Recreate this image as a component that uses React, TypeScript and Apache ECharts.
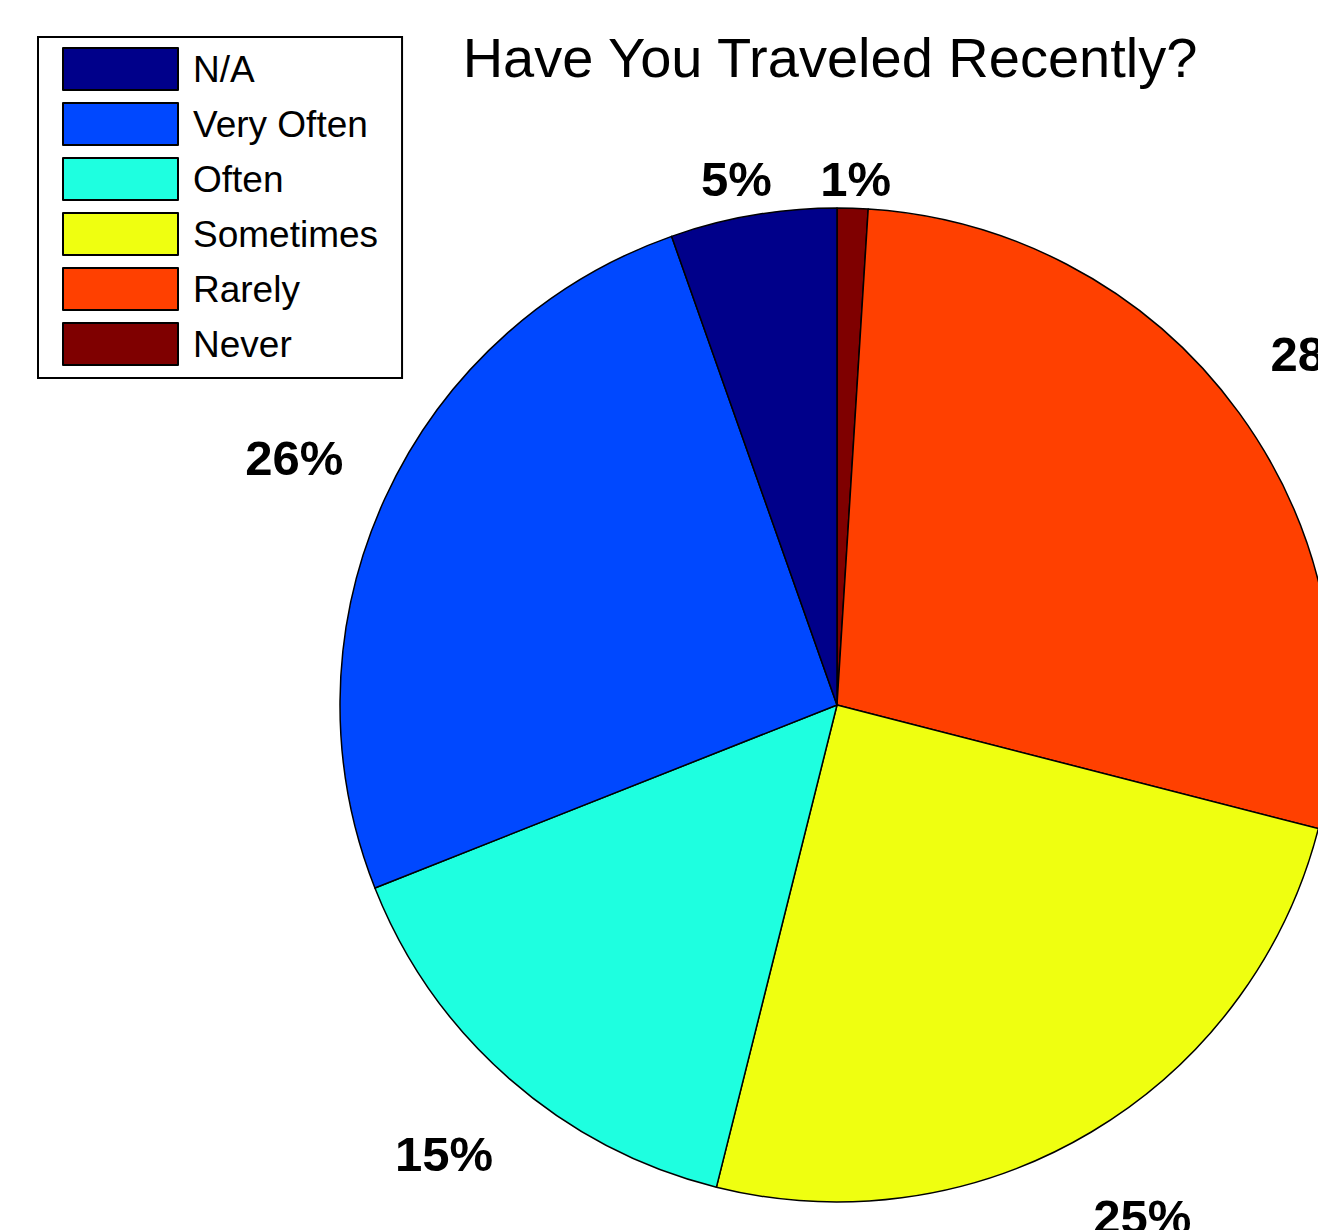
import React, { useEffect, useRef } from "react";
import * as echarts from "echarts";

// Slices in drawing order (clockwise from 12 o'clock)
const categories = ["Never", "Rarely", "Sometimes", "Often", "Very Often", "N/A"];
const values = [1.0, 28.0, 24.9, 15.1, 25.6, 5.4];
const colors = ["#7F0000", "#FF4000", "#EFFF10", "#1EFFE0", "#0048FF", "#00008A"];
const legendOrder = ["N/A", "Very Often", "Often", "Sometimes", "Rarely", "Never"];
const titleText = "Have You Traveled Recently?";

const FONT = "'Liberation Sans', Arial, Helvetica, sans-serif";
const RADIUS = 497;

export default function App() {
  const ref = useRef<HTMLDivElement>(null);

  useEffect(() => {
    if (!ref.current) return;
    const chart = echarts.init(ref.current, undefined, { renderer: "svg" });
    const option: any = {
      animation: false,
      backgroundColor: "#ffffff",
      title: {
        text: titleText,
        left: 830,
        top: 29,
        textAlign: "center",
        padding: 0,
        textStyle: {
          fontFamily: FONT,
          fontSize: 56,
          fontWeight: "normal",
          color: "#000000",
        },
      },
      legend: {
        orient: "vertical",
        left: 38,
        top: 37,
        data: legendOrder,
        icon: "rect",
        itemWidth: 115,
        itemHeight: 42,
        itemGap: 11,
        padding: [10, 24, 12, 24],
        borderColor: "#000000",
        borderWidth: 2,
        backgroundColor: "#ffffff",
        selectedMode: false,
        itemStyle: { borderColor: "#000000", borderWidth: 2 },
        textStyle: {
          fontFamily: FONT,
          fontSize: 37,
          lineHeight: 42,
          color: "#000000",
          padding: [0, 0, 0, 10],
        },
      },
      series: [
        {
          type: "pie",
          center: [837, 705],
          radius: RADIUS,
          startAngle: 90,
          clockwise: true,
          avoidLabelOverlap: false,
          silent: true,
          data: categories.map((name, i) => ({
            name,
            value: values[i],
            itemStyle: { color: colors[i] },
          })),
          itemStyle: { borderColor: "#000000", borderWidth: 1.5 },
          label: {
            show: true,
            position: "outside",
            formatter: (p: any) => Math.round(p.value) + "%",
            fontFamily: FONT,
            fontSize: 49,
            fontWeight: "bold",
            color: "#000000",
            overflow: "none",
            width: 300,
          },
          labelLine: {
            show: true,
            length: RADIUS * 0.2,
            length2: 0,
            lineStyle: { opacity: 0, width: 0 },
          },
          labelLayout: (params: any) => {
            const pts = params.labelLinePoints;
            if (!pts || pts.length < 2) return {};
            const x = pts[1][0];
            let y = pts[1][1];
            // keep top labels clear of the title
            y = Math.max(y, 179);
            return { x, y, align: "center", verticalAlign: "middle" };
          },
        },
      ],
    };
    chart.setOption(option);
    return () => chart.dispose();
  }, []);

  return (
    <div
      ref={ref}
      style={{ position: "fixed", left: 0, top: 0, width: 1318, height: 1230, background: "#fff" }}
    />
  );
}
